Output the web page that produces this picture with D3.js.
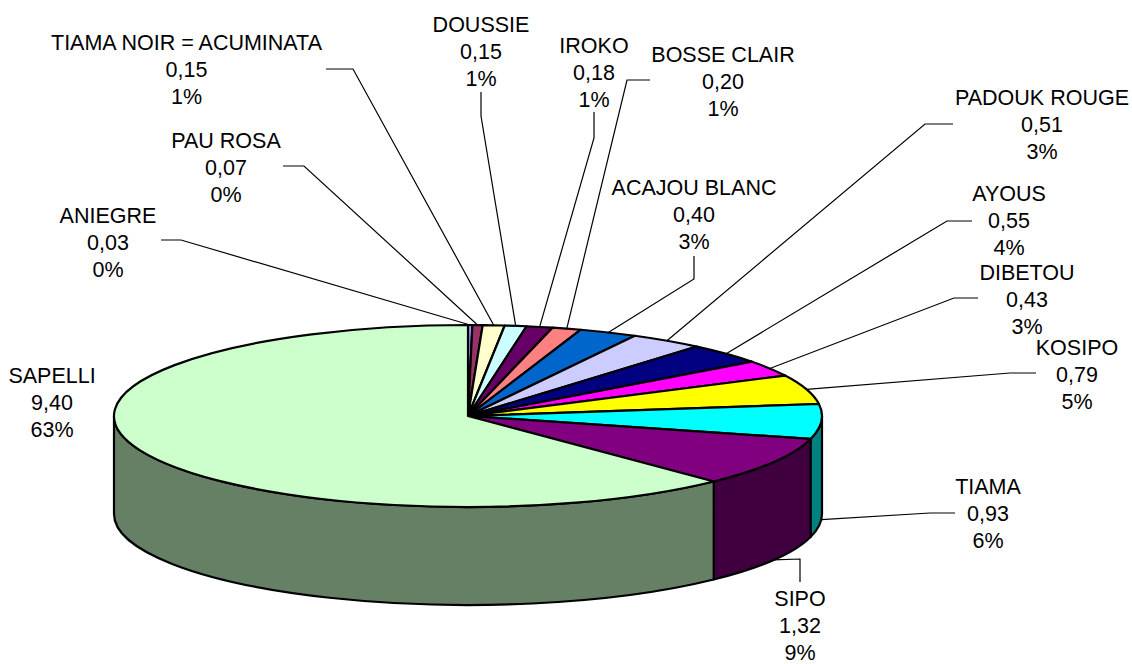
<!DOCTYPE html>
<html>
<head>
<meta charset="utf-8">
<script src="https://cdnjs.cloudflare.com/ajax/libs/d3/7.8.5/d3.min.js"></script>
<style>
    html, body { margin: 0; padding: 0; background: #fff; }
    text { font-family: "Liberation Sans", Arial, sans-serif; font-size: 21.5px; fill: #000; }
</style>
</head>
<body>
<div id="chart"></div>
<script>
// Chart values, clockwise from twelve o'clock
const categories = ['ANIEGRE', 'PAU ROSA', 'TIAMA NOIR = ACUMINATA', 'DOUSSIE', 'IROKO', 'BOSSE CLAIR',
    'ACAJOU BLANC', 'PADOUK ROUGE', 'AYOUS', 'DIBETOU', 'KOSIPO', 'TIAMA', 'SIPO', 'SAPELLI'];
const values = [0.03, 0.07, 0.15, 0.15, 0.18, 0.20, 0.40, 0.51, 0.55, 0.43, 0.79, 0.93, 1.32, 9.40];
const percents = ['0%', '0%', '1%', '1%', '1%', '1%', '3%', '3%', '4%', '3%', '5%', '6%', '9%', '63%'];

const colors = ['#9999ff', '#993366', '#ffffcc', '#ccffff', '#660066', '#ff8080', '#0066cc',
    '#ccccff', '#000080', '#ff00ff', '#ffff00', '#00ffff', '#800080', '#ccffcc'];

// Label centre x and first line baseline
const labelX = [108, 226, 186.5, 481, 594, 723, 694, 1042, 1009, 1027, 1077, 988, 800, 52];
const labelY = [223, 148, 50, 32, 53, 62, 195, 105, 201, 280, 355, 494, 606, 383];

// Leader start and elbow, the far end is worked out from the slice
const leaderStart = [[161, 240], [283, 166], [326, 69], [481, 92], [594, 112], [650, 80], [694, 256],
    [953, 124], [972, 221], [978, 298], [1036, 373], [955, 513], [800, 582], null];
const leaderElbow = [[181, 240], [304, 166], [353, 69], [481, 116], [594, 138], [627, 80], [694, 279],
    [925, 124], [947, 221], [954, 298], [1010, 373], [930, 513], [800, 559], null];

const width = 1132, height = 664;
const cx = 468, cy = 416, rx = 354, ry = 91, depth = 98;

const svg = d3.select('#chart').append('svg')
    .attr('width', width)
    .attr('height', height)
    .style('display', 'block');

const slices = d3.pie().sort(null).value(d => d)(values);
const numFormat = d3.formatLocale({ decimal: ',', thousands: ' ', grouping: [3], currency: ['', ''] }).format('.2f');

// Point on the rim, angle measured clockwise from the top
function rim(a, dy = 0) {
    return [cx + rx * Math.sin(a), cy - ry * Math.cos(a) + dy];
}

function darker(c) {
    const rgb = d3.rgb(c);
    return d3.rgb(rgb.r / 2, rgb.g / 2, rgb.b / 2).formatHex();
}

// Side wall, only the front half (90deg to 270deg) can be seen
const sideGroup = svg.append('g');
slices.forEach((s, i) => {
    const a0 = Math.max(s.startAngle, Math.PI / 2);
    const a1 = Math.min(s.endAngle, Math.PI * 1.5);
    if (a1 <= a0) return;
    const p0 = rim(a0), p1 = rim(a1), q1 = rim(a1, depth), q0 = rim(a0, depth);
    const big = a1 - a0 > Math.PI ? 1 : 0;
    sideGroup.append('path')
        .attr('d', `M${p0} A${rx},${ry} 0 ${big} 1 ${p1} L${q1} A${rx},${ry} 0 ${big} 0 ${q0} Z`)
        .attr('fill', darker(colors[i]))
        .attr('stroke', '#000')
        .attr('stroke-width', 2.2)
        .attr('stroke-linejoin', 'round');
});

// Top face
const topGroup = svg.append('g');
slices.forEach((s, i) => {
    const p0 = rim(s.startAngle), p1 = rim(s.endAngle);
    const big = s.endAngle - s.startAngle > Math.PI ? 1 : 0;
    topGroup.append('path')
        .attr('d', `M${cx},${cy} L${p0} A${rx},${ry} 0 ${big} 1 ${p1} Z`)
        .attr('fill', colors[i])
        .attr('stroke', '#000')
        .attr('stroke-width', 2.2)
        .attr('stroke-linejoin', 'round');
});

// Leader lines
const leaders = svg.append('g');
slices.forEach((s, i) => {
    if (!leaderStart[i]) return;
    const mid = (s.startAngle + s.endAngle) / 2;
    const isFront = mid > Math.PI / 2 && mid < Math.PI * 1.5;
    const end = rim(mid, isFront ? depth : 0);
    leaders.append('path')
        .attr('d', d3.line()([leaderStart[i], leaderElbow[i], end]))
        .attr('fill', 'none')
        .attr('stroke', '#000')
        .attr('stroke-width', 1.2);
});

// Labels, three lines each
const labels = svg.append('g').attr('text-anchor', 'middle');
categories.forEach((name, i) => {
    const lines = [name, numFormat(values[i]), percents[i]];
    lines.forEach((line, j) => {
        labels.append('text')
            .attr('x', labelX[i])
            .attr('y', labelY[i] + j * 27)
            .text(line);
    });
});
</script>
</body>
</html>
